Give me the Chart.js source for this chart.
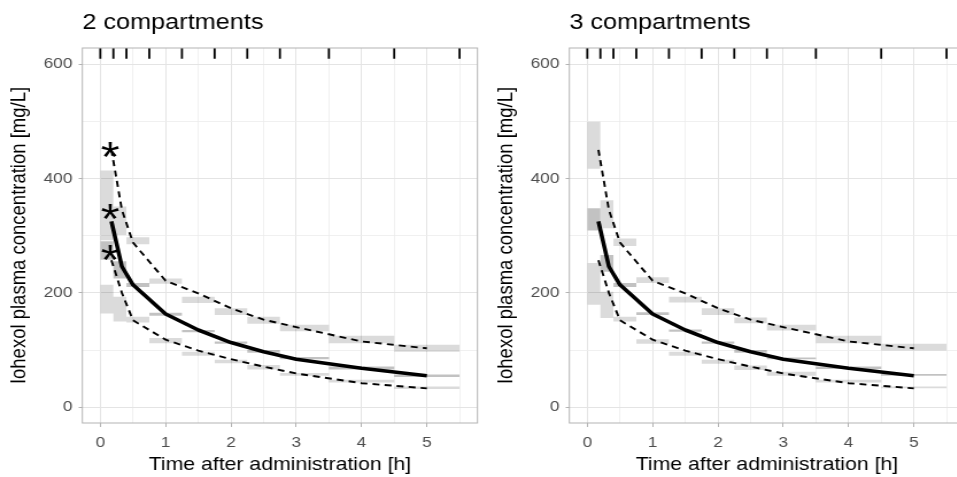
<!DOCTYPE html>
<html>
<head>
<meta charset="utf-8">
<script src="https://cdn.jsdelivr.net/npm/chart.js@4.4.0/dist/chart.umd.min.js"></script>
<style>
  html, body { margin: 0; padding: 0; background: #fff; overflow: hidden; }
  .panel { position: absolute; top: 0; width: 424px; height: 477px; transform: scaleX(1.1486); transform-origin: 0 0; }
  #wrap2c { left: 0; }
  #wrap3c { left: 487px; }
</style>
</head>
<body>
<div class="panel" id="wrap2c"><canvas id="chart2c" width="424" height="477"></canvas></div>
<div class="panel" id="wrap3c"><canvas id="chart3c" width="424" height="477"></canvas></div>
<script>
const xTitle = 'Time after administration [h]';
const yTitle = 'Iohexol plasma concentration [mg/L]';
const xTicks = [0, 1, 2, 3, 4, 5];
const xTickLabels = ['0', '1', '2', '3', '4', '5'];
const xMinorTicks = [0.5, 1.5, 2.5, 3.5, 4.5, 5.5];
const yTicks = [0, 200, 400, 600];
const yTickLabels = ['0', '200', '400', '600'];
const yMinorTicks = [100, 300, 500];

// bin boundaries (rug at the top)
const binEdges = [0, 0.2, 0.4, 0.75, 1.25, 1.75, 2.25, 2.75, 3.5, 4.5, 5.5];

// observed percentiles
const obsTime = [0.17, 0.33, 0.5, 1, 1.5, 2, 2.5, 3, 4, 5];
const obsP05 = [257, 200, 152, 118, 99, 84, 71, 59, 42, 33];
const obsP50 = [325, 246, 214, 163, 135, 113, 97, 84, 68, 55];
const obsP95 = [450, 345, 288, 221, 199, 173, 153, 140, 115, 103];

// 2 compartments: simulated CI per bin
const ci05Lo2 = [164, 150, 148, 112, 90, 77, 66, 55, 43, 32];
const ci05Hi2 = [214, 193, 158, 121, 97, 83, 74, 60, 48, 36];
const ci50Lo2 = [258, 225, 210, 160, 131, 111, 95, 84, 66, 53];
const ci50Hi2 = [290, 255, 217, 165, 135, 115, 100, 88, 71, 57];
const ci95Lo2 = [292, 301, 285, 216, 182, 161, 146, 133, 112, 97];
const ci95Hi2 = [414, 351, 297, 225, 193, 173, 158, 144, 125, 109];

// 3 compartments
const ci05Lo3 = [179, 156, 150, 111, 90, 76, 65, 55, 43, 33];
const ci05Hi3 = [252, 202, 158, 119, 97, 83, 73, 62, 48, 36];
const ci50Lo3 = [309, 237, 210, 161, 132, 111, 95, 84, 67, 55];
const ci50Hi3 = [348, 266, 217, 166, 136, 115, 100, 87, 71, 58];
const ci95Lo3 = [417, 313, 282, 217, 183, 161, 147, 134, 112, 99];
const ci95Hi3 = [499, 362, 295, 227, 193, 173, 157, 144, 125, 111];

// asterisks (2 compartments only)
const starX = [0.15, 0.15, 0.15];
const starY = [450, 342, 270];
const rugY = [609, 628];

const FONT = '"Liberation Sans", Arial, sans-serif';
const GRID = '#e4e4e4';
const GRID_MINOR = '#ececec';
const AXIS = '#b3b3b3';

function stepPoints(values) {
  return binEdges.map((x, i) => ({ x, y: values[Math.min(i, values.length - 1)] }));
}

function boxPair(lo, hi, color) {
  return [
    { data: stepPoints(hi), stepped: 'before', borderColor: 'rgba(0,0,0,0)', borderWidth: 1, pointRadius: 0, fill: false },
    { data: stepPoints(lo), stepped: 'before', borderColor: 'rgba(0,0,0,0)', borderWidth: 1, pointRadius: 0, fill: '-1', backgroundColor: color }
  ];
}

function obsLine(values, width, dash) {
  return {
    data: obsTime.map((x, i) => ({ x, y: values[i] })),
    borderColor: '#000', borderWidth: width, borderDash: dash,
    borderJoinStyle: 'round', pointRadius: 0, fill: false, tension: 0
  };
}

const panelDeco = {
  id: 'panelDeco',
  afterDatasetsDraw(chart, args, opts) {
    const { ctx, chartArea } = chart;
    ctx.save();
    // asterisks as text, placed on the dataset's points
    chart.data.datasets.forEach((ds, i) => {
      if (!ds.isStar) return;
      ctx.font = '42px ' + FONT;
      ctx.fillStyle = '#000';
      ctx.textAlign = 'left';
      ctx.textBaseline = 'alphabetic';
      const m = ctx.measureText('*');
      chart.getDatasetMeta(i).data.forEach(pt => {
        const bx = pt.x - (m.actualBoundingBoxRight - m.actualBoundingBoxLeft) / 2;
        const by = pt.y + (m.actualBoundingBoxAscent - m.actualBoundingBoxDescent) / 2;
        ctx.fillText('*', bx, by);
      });
    });
    // panel border
    ctx.strokeStyle = AXIS;
    ctx.lineWidth = 1;
    ctx.strokeRect(chartArea.left, chartArea.top, chartArea.right - chartArea.left, chartArea.bottom - chartArea.top);
    // panel title
    ctx.font = '22px ' + FONT;
    ctx.fillStyle = '#000';
    ctx.textAlign = 'left';
    ctx.textBaseline = 'alphabetic';
    ctx.fillText(opts.title, chartArea.left, 29.3);
    ctx.restore();
  }
};

function makePanel(canvasId, title, ci, withStars) {
  const canvas = document.getElementById(canvasId);
  if (!canvas) return null;
  const ctx = canvas.getContext('2d');

  const xGrid = xTicks.concat(xMinorTicks).sort((a, b) => a - b);
  const yGrid = yTicks.concat(yMinorTicks).sort((a, b) => a - b);

  const rug = [];
  binEdges.forEach(x => {
    rug.push({ x, y: rugY[0] }, { x, y: rugY[1] }, { x, y: null });
  });

  const datasets = [
    obsLine(obsP50, 3.6, []),
    obsLine(obsP95, 1.9, [6, 4.5]),
    obsLine(obsP05, 1.9, [6, 4.5]),
    { data: rug, borderColor: '#000', borderWidth: 1.8, pointRadius: 0, fill: false, spanGaps: false }
  ];
  if (withStars) {
    datasets.push({
      data: starX.map((x, i) => ({ x, y: starY[i] })),
      isStar: true, showLine: false, pointRadius: 0, fill: false
    });
  }
  datasets.push(
    ...boxPair(ci.p50lo, ci.p50hi, 'rgba(0,0,0,0.24)'),
    ...boxPair(ci.p95lo, ci.p95hi, 'rgba(0,0,0,0.14)'),
    ...boxPair(ci.p05lo, ci.p05hi, 'rgba(0,0,0,0.14)')
  );

  return new Chart(ctx, {
    type: 'line',
    data: { datasets },
    options: {
      responsive: false,
      animation: false,
      events: [],
      layout: { padding: { top: 48, right: 8.3, left: 0, bottom: 0 } },
      plugins: {
        legend: { display: false },
        tooltip: { enabled: false },
        panelDeco: { title }
      },
      scales: {
        x: {
          type: 'linear',
          min: -0.275,
          max: 5.775,
          afterBuildTicks: s => { s.ticks = xGrid.map(v => ({ value: v })); },
          afterFit: s => { s.height = 54; },
          border: { display: false },
          grid: {
            color: c => (c.tick && xTicks.includes(c.tick.value) ? GRID : GRID_MINOR),
            lineWidth: c => (c.tick && xTicks.includes(c.tick.value) ? 1 : 0.8),
            tickLength: 4,
            tickWidth: 1,
            tickColor: c => (c.tick && xTicks.includes(c.tick.value) ? AXIS : 'rgba(0,0,0,0)')
          },
          ticks: {
            autoSkip: false,
            maxRotation: 0,
            padding: 6.5,
            color: '#4d4d4d',
            font: { family: FONT, size: 15 },
            callback: v => {
              const i = xTicks.indexOf(v);
              return i < 0 ? '' : xTickLabels[i];
            }
          },
          title: {
            display: true,
            text: xTitle,
            color: '#000',
            font: { family: FONT, size: 18.5 },
            padding: { top: 0, bottom: 0.6 }
          }
        },
        y: {
          type: 'linear',
          min: -27.6,
          max: 628,
          afterBuildTicks: s => { s.ticks = yGrid.map(v => ({ value: v })); },
          afterFit: s => { s.width = 71.7; },
          border: { display: false },
          grid: {
            color: c => (c.tick && yTicks.includes(c.tick.value) ? GRID : GRID_MINOR),
            lineWidth: c => (c.tick && yTicks.includes(c.tick.value) ? 1 : 0.8),
            tickLength: 3.2,
            tickWidth: 1,
            tickColor: c => (c.tick && yTicks.includes(c.tick.value) ? AXIS : 'rgba(0,0,0,0)')
          },
          ticks: {
            autoSkip: false,
            padding: 5.5,
            color: '#4d4d4d',
            font: { family: FONT, size: 15 },
            callback: v => {
              const i = yTicks.indexOf(v);
              return i < 0 ? '' : yTickLabels[i];
            }
          },
          title: {
            display: true,
            text: yTitle,
            color: '#000',
            font: { family: FONT, size: 18.5 },
            padding: { top: 5.5, bottom: 0 }
          }
        }
      }
    },
    plugins: [panelDeco]
  });
}

makePanel('chart2c', '2 compartments', {
  p05lo: ci05Lo2, p05hi: ci05Hi2, p50lo: ci50Lo2, p50hi: ci50Hi2, p95lo: ci95Lo2, p95hi: ci95Hi2
}, true);
makePanel('chart3c', '3 compartments', {
  p05lo: ci05Lo3, p05hi: ci05Hi3, p50lo: ci50Lo3, p50hi: ci50Hi3, p95lo: ci95Lo3, p95hi: ci95Hi3
}, false);
</script>
</body>
</html>
